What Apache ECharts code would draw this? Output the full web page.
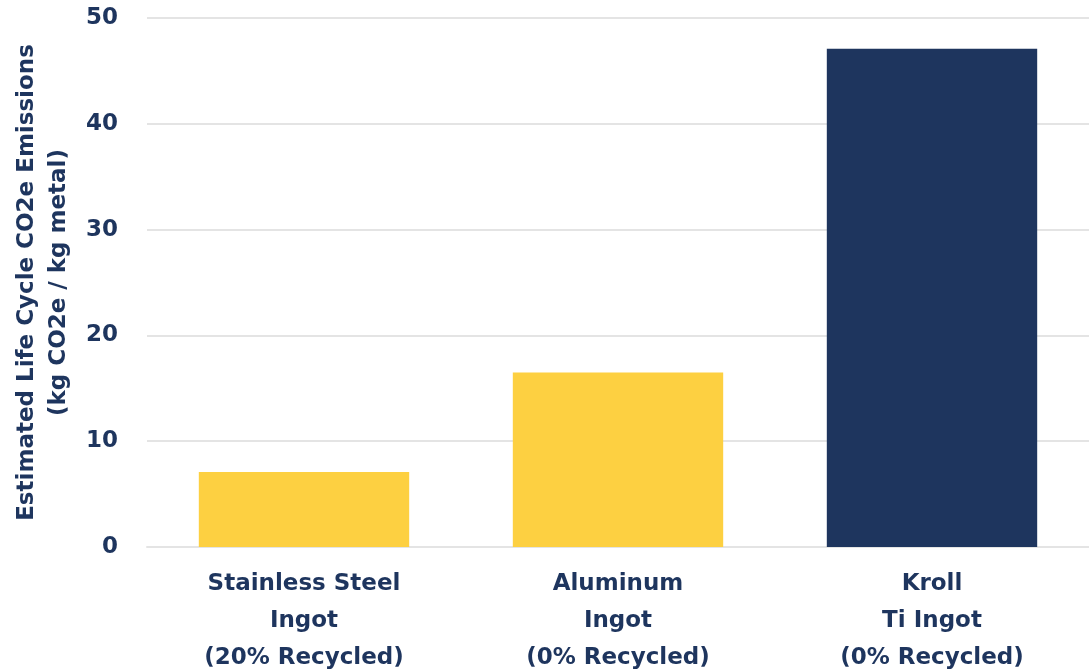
<!DOCTYPE html>
<html>
<head>
<meta charset="utf-8">
<script src="https://cdn.jsdelivr.net/npm/echarts@6/dist/echarts.min.js"></script>
<style>
  html, body { margin: 0; padding: 0; background: #ffffff; }
  #chart { width: 1089px; height: 670px; }
</style>
</head>
<body>
<div id="chart"></div>
<script>
// Life-cycle emissions per kg of metal ingot
const categories = [
  'Stainless Steel\nIngot\n(20% Recycled)',
  'Aluminum\nIngot\n(0% Recycled)',
  'Kroll\nTi Ingot\n(0% Recycled)'
];
const emissions = [7.1, 16.5, 47.1];
const barColors = ['#FDD041', '#FDD041', '#1E355E'];
const yAxisTitle = 'Estimated Life Cycle CO2e Emissions\n(kg CO2e / kg metal)';

const navy = '#1E355E';
const font = '"DejaVu Sans", Inter, sans-serif';

const chart = echarts.init(document.getElementById('chart'), null, { renderer: 'canvas' });

chart.setOption({
  animation: false,
  backgroundColor: '#ffffff',
  grid: {
    left: 147, right: 0, top: 18, bottom: 123,
    containLabel: false,
    outerBoundsMode: 'none'
  },
  xAxis: {
    type: 'category',
    data: categories,
    axisLine: { show: true, lineStyle: { color: '#e4e4e4', width: 2 } },
    axisTick: { show: false },
    axisLabel: {
      color: navy,
      fontFamily: font,
      fontWeight: 'bold',
      fontSize: 23,
      lineHeight: 37,
      margin: 19,
      interval: 0
    }
  },
  yAxis: {
    type: 'value',
    min: 0,
    max: 50,
    interval: 10,
    name: yAxisTitle,
    nameLocation: 'middle',
    nameGap: 69,
    nameTextStyle: {
      color: navy,
      fontFamily: font,
      fontWeight: 'bold',
      fontSize: 23,
      lineHeight: 32
    },
    axisLine: { show: false },
    axisTick: { show: false },
    splitLine: { lineStyle: { color: '#e4e4e4', width: 2 } },
    axisLabel: {
      color: navy,
      fontFamily: font,
      fontWeight: 'bold',
      fontSize: 23,
      margin: 29
    }
  },
  series: [{
    type: 'bar',
    data: emissions.map((v, i) => ({ value: v, itemStyle: { color: barColors[i] } })),
    barCategoryGap: '33%'
  }]
});
</script>
</body>
</html>
